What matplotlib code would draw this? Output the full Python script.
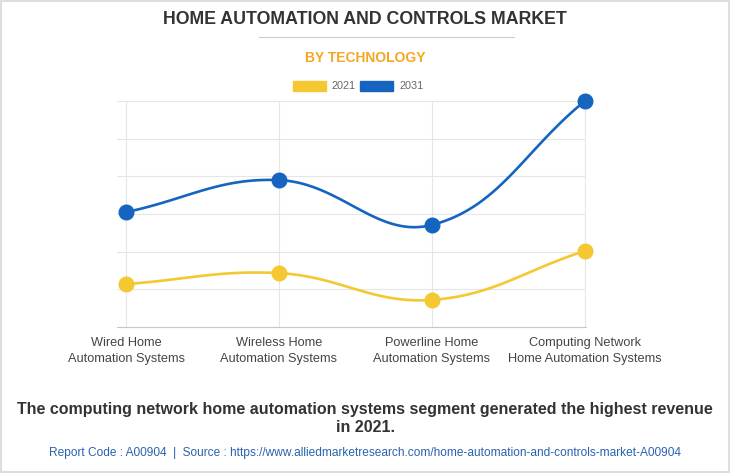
import numpy as np
import matplotlib
matplotlib.use("Agg")
import matplotlib.pyplot as plt
from matplotlib.patches import Rectangle

plt.rcParams['font.family'] = ['Liberation Sans', 'DejaVu Sans']

categories = ["Wired Home\nAutomation Systems", "Wireless Home\nAutomation Systems",
              "Powerline Home\nAutomation Systems", "Computing Network\nHome Automation Systems"]
values_2021 = [1.14, 1.43, 0.72, 2.02]
values_2031 = [3.05, 3.90, 2.71, 6.00]
years = ["2021", "2031"]
colors = ["#F5C730", "#1565C0"]


def spline_path(ax, xs, ys, tension=0.4, n=40):
    # chart.js style bezier smoothing, computed in display space
    pts = ax.transData.transform(np.column_stack([xs, ys]))
    out = []
    m = len(pts)
    cps = []
    for i in range(m):
        prev = pts[max(i - 1, 0)]
        cur = pts[i]
        nxt = pts[min(i + 1, m - 1)]
        d01 = np.hypot(*(cur - prev))
        d12 = np.hypot(*(nxt - cur))
        tot = d01 + d12 if d01 + d12 > 0 else 1
        fa = tension * d01 / tot
        fb = tension * d12 / tot
        cps.append((cur - fa * (nxt - prev), cur + fb * (nxt - prev)))
    t = np.linspace(0, 1, n)[:, None]
    for i in range(m - 1):
        p0 = pts[i]
        p1 = cps[i][1]
        p2 = cps[i + 1][0]
        p3 = pts[i + 1]
        seg = ((1 - t) ** 3) * p0 + 3 * ((1 - t) ** 2) * t * p1 + 3 * (1 - t) * t ** 2 * p2 + t ** 3 * p3
        out.append(seg)
    out = np.vstack(out)
    return ax.transData.inverted().transform(out)


fig = plt.figure(figsize=(7.3, 4.73), dpi=100)
ax = fig.add_axes([117 / 730, 1 - 327 / 473, (586 - 117) / 730, (327 - 101) / 473])
x = np.arange(len(categories))
ax.set_xlim(-0.059, 3.007)
ax.set_ylim(0, 6)

ax.set_yticks(np.arange(0, 7, 1))
ax.set_yticklabels([])
ax.tick_params(axis='y', length=0)
ax.grid(True, color="#e6e6e6", linewidth=0.8)
ax.set_xticks(x)
ax.set_xticklabels(categories, fontsize=9.2, color="#444444", linespacing=1.5)
ax.tick_params(axis='x', length=0, pad=7)
for s in ["left", "right", "top"]:
    ax.spines[s].set_visible(False)
ax.spines["bottom"].set_color("#c8c8c8")
ax.set_axisbelow(True)

for vals, col in zip([values_2021, values_2031], colors):
    curve = spline_path(ax, x, vals)
    ax.plot(curve[:, 0], curve[:, 1], color=col, linewidth=1.9, clip_on=False, zorder=3)
    ax.plot(x, vals, 'o', color=col, markersize=10.5, clip_on=False, zorder=4)

# titles
fig.text(0.5, 1 - 20 / 473, "HOME AUTOMATION AND CONTROLS MARKET", ha="center", va="center",
         fontsize=12.8, fontweight="bold", color="#333333")
fig.add_artist(plt.Line2D([259 / 730, 514 / 730], [1 - 37 / 473] * 2, color="#cccccc", linewidth=0.8))
fig.text(0.5, 1 - 58 / 473, "BY TECHNOLOGY", ha="center", va="center",
         fontsize=10, fontweight="bold", color="#F5A623")

# legend
lx = [293, 360]
for xx, col, lab in zip(lx, colors, years):
    fig.add_artist(Rectangle((xx / 730, 1 - 91 / 473), 33 / 730, 10 / 473, color=col,
                             transform=fig.transFigure))
    fig.text((xx + 39) / 730, 1 - 86 / 473, lab, ha="left", va="center", fontsize=7.8, color="#666666")

fig.text(0.5, 1 - 418 / 473,
         "The computing network home automation systems segment generated the highest revenue\nin 2021.",
         ha="center", va="center", fontsize=11.5, fontweight="bold", color="#333333", linespacing=1.25)
fig.text(0.5, 1 - 453 / 473,
         "Report Code : A00904  |  Source : https://www.alliedmarketresearch.com/home-automation-and-controls-market-A00904",
         ha="center", va="center", fontsize=8.6, color="#2a62b0")

fig.add_artist(Rectangle((0.001, 0.002), 0.997, 0.996, fill=False, edgecolor="#dddddd",
                         linewidth=1.5, transform=fig.transFigure))

fig.savefig("out.png", dpi=100)
